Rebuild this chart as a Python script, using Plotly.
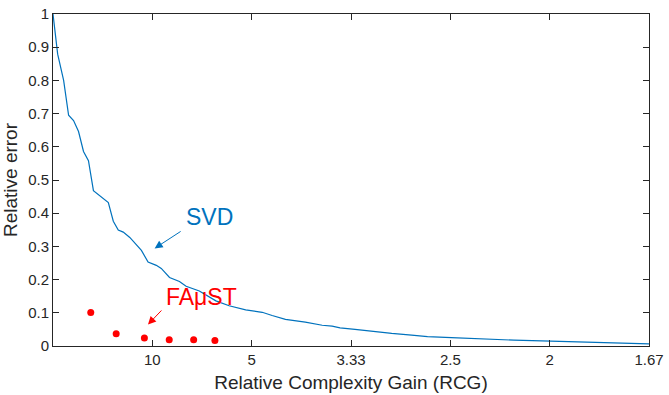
import plotly.graph_objects as go

# x values are 1/RCG (axis labelled with RCG), y = relative error
svd_x = [0.0, 0.0047, 0.0107, 0.0157, 0.0207, 0.0257, 0.0307, 0.0357, 0.0407, 0.047,
         0.0557, 0.0607, 0.0657, 0.0707, 0.0773, 0.089, 0.0957, 0.104, 0.109, 0.1173,
         0.1273, 0.134, 0.1473, 0.164, 0.1773, 0.194, 0.2106, 0.2206, 0.234, 0.254,
         0.271, 0.281, 0.289, 0.304, 0.321, 0.341, 0.361, 0.377, 0.401, 0.431,
         0.464, 0.501, 0.531, 0.564, 0.6]
svd_y = [1.0, 0.879, 0.80, 0.695, 0.679, 0.646, 0.586, 0.558, 0.468, 0.454,
         0.432, 0.376, 0.349, 0.343, 0.327, 0.288, 0.253, 0.243, 0.2336, 0.2063,
         0.1945, 0.18, 0.1655, 0.136, 0.1212, 0.1086, 0.1015, 0.0918, 0.080, 0.072,
         0.0625, 0.0596, 0.0546, 0.0499, 0.044, 0.038, 0.033, 0.028, 0.025, 0.021,
         0.0176, 0.0147, 0.0117, 0.0088, 0.0067]

faust_x = [0.038, 0.0636, 0.092, 0.117, 0.1416, 0.163]
faust_y = [0.1006, 0.037, 0.024, 0.0185, 0.0185, 0.0165]

x_tickvals = [0.1, 0.2, 0.3, 0.4, 0.5, 0.6]
x_ticktext = ["10", "5", "3.33", "2.5", "2", "1.67"]
y_tickvals = [0, 0.1, 0.2, 0.3, 0.4, 0.5, 0.6, 0.7, 0.8, 0.9, 1]
y_ticktext = ["0", "0.1", "0.2", "0.3", "0.4", "0.5", "0.6", "0.7", "0.8", "0.9", "1"]

BLUE = "#0072BD"
RED = "#FF0000"
AX = "#262626"
FONT = "Liberation Sans, Arial, Helvetica, sans-serif"

fig = go.Figure()
fig.add_trace(go.Scatter(x=svd_x, y=svd_y, mode="lines",
                         line=dict(color=BLUE, width=1.2), showlegend=False))
fig.add_trace(go.Scatter(x=faust_x, y=faust_y, mode="markers",
                         marker=dict(color=RED, size=7), showlegend=False))

axis_common = dict(showgrid=False, zeroline=False, showline=True, linecolor=AX,
                   linewidth=1, mirror="ticks", ticks="inside", ticklen=6,
                   tickcolor=AX, tickwidth=1, ticklabeloverflow="allow",
                   tickfont=dict(family=FONT, size=15, color=AX))

fig.update_xaxes(range=[0, 0.6], tickvals=x_tickvals, ticktext=x_ticktext,
                 title=dict(text="Relative Complexity Gain (RCG)",
                            font=dict(family=FONT, size=19, color=AX), standoff=8),
                 **axis_common)
fig.update_yaxes(range=[0, 1], tickvals=y_tickvals, ticktext=y_ticktext,
                 title=dict(text="Relative error",
                            font=dict(family=FONT, size=19, color=AX), standoff=6),
                 **axis_common)

# text labels
fig.add_annotation(x=0.1576, y=0.388, xref="x", yref="y", text="SVD", showarrow=False,
                   font=dict(family=FONT, size=23, color=BLUE))
fig.add_annotation(x=0.1498, y=0.1476, xref="x", yref="y", text="FAμST", showarrow=False,
                   font=dict(family=FONT, size=23, color=RED))
# arrows
fig.add_annotation(x=0.1023, y=0.294, ax=0.130, ay=0.348, xref="x", yref="y",
                   axref="x", ayref="y", text="", showarrow=True, arrowhead=2,
                   arrowsize=1.6, arrowwidth=1, arrowcolor=BLUE)
fig.add_annotation(x=0.0956, y=0.0646, ax=0.1106, ay=0.1115, xref="x", yref="y",
                   axref="x", ayref="y", text="", showarrow=True, arrowhead=2,
                   arrowsize=1.6, arrowwidth=1, arrowcolor=RED)

fig.update_layout(width=669, height=395, paper_bgcolor="white", plot_bgcolor="white",
                  margin=dict(l=53, r=16, t=5, b=49, pad=0),
                  font=dict(family=FONT, color=AX))

fig.write_html("out.html")
